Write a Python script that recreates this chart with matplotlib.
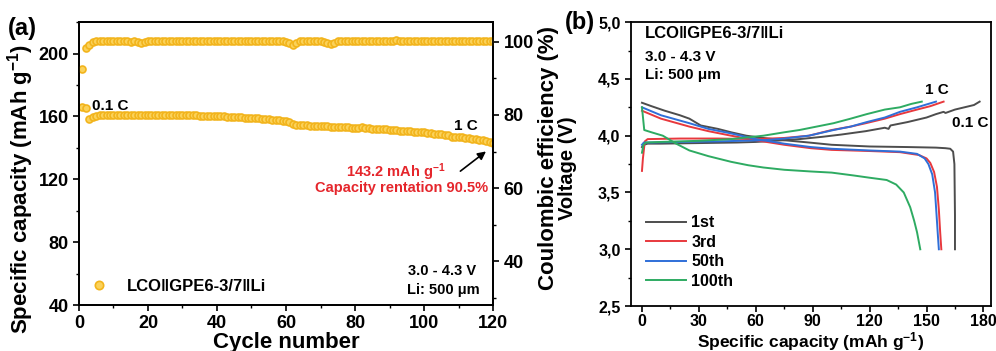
import matplotlib
matplotlib.use("Agg")
import matplotlib.pyplot as plt
from matplotlib.ticker import MultipleLocator, FuncFormatter

plt.rcParams['font.family'] = ['Liberation Sans', 'DejaVu Sans']
plt.rcParams['font.weight'] = 'bold'
plt.rcParams['axes.labelweight'] = 'bold'
plt.rcParams['mathtext.default'] = 'regular'

# ---- panel (a): cycling data ----
cycles = list(range(1, 121))
capacity = [166.0, 165.6, 158.2, 159.6, 160.3, 160.6, 160.8, 160.9, 161.0, 161.0,
            161.1, 161.1, 161.2, 161.1, 161.2, 161.2, 161.1, 160.8, 161.0, 161.1,
            161.1, 161.0, 161.0, 161.0, 160.9, 160.9, 160.9, 160.8, 160.8, 160.8,
            160.7, 160.7, 160.6, 160.6, 160.5, 160.5, 160.4, 160.4, 160.3, 160.2,
            160.1, 160.0, 159.9, 159.8, 159.7, 159.5, 159.4, 159.3, 159.1, 159.0,
            158.8, 158.7, 158.5, 158.3, 158.2, 158.0, 157.8, 157.6, 157.4, 157.1,
            156.5, 155.0, 154.6, 154.5, 154.4, 154.3, 154.2, 154.1, 154.0, 153.9,
            153.8, 153.6, 153.4, 153.5, 153.4, 153.3, 153.2, 153.0, 152.9, 152.8,
            152.7, 153.3, 152.8, 152.5, 152.3, 152.2, 152.0, 151.8, 151.7, 151.5,
            151.3, 151.2, 151.0, 150.8, 150.7, 150.5, 150.3, 150.1, 150.0, 149.8,
            149.6, 149.3, 149.1, 148.8, 148.5, 148.4, 148.0, 147.2, 147.1, 147.0,
            146.6, 146.3, 146.0, 145.8, 145.5, 145.2, 144.9, 144.5, 144.0, 143.2]
efficiency = [92.6, 98.2, 99.2, 100.0, 100.1, 100.1, 100.1, 100.2, 100.1, 100.1,
              100.1, 100.1, 100.1, 100.1, 100.0, 100.1, 99.9, 99.7, 99.9, 100.1,
              100.1, 100.1, 100.1, 100.1, 100.1, 100.1, 100.1, 100.1, 100.1, 100.1,
              100.1, 100.1, 100.1, 100.1, 100.1, 100.1, 100.1, 100.1, 100.1, 100.1,
              100.1, 100.1, 100.1, 100.1, 100.1, 100.1, 100.1, 100.1, 100.1, 100.1,
              100.1, 100.1, 100.1, 100.1, 100.1, 100.1, 100.1, 100.1, 100.1, 100.0,
              99.7, 99.2, 99.8, 100.1, 100.1, 100.1, 100.1, 100.1, 100.1, 100.1,
              100.0, 99.7, 99.4, 99.8, 100.1, 100.1, 100.1, 100.1, 100.1, 100.1,
              100.1, 100.1, 100.1, 100.1, 100.1, 100.1, 100.1, 100.1, 100.1, 100.2,
              100.3, 100.4, 100.2, 100.1, 100.1, 100.1, 100.1, 100.1, 100.1, 100.1,
              100.1, 100.1, 100.1, 100.1, 100.1, 100.1, 100.1, 100.1, 100.1, 100.1,
              100.1, 100.1, 100.1, 100.1, 100.1, 100.1, 100.1, 100.1, 100.1, 100.1]

# ---- panel (b): voltage profiles (specific capacity, voltage) ----
cap_1st_chg = [0, 1, 3, 10, 30, 50, 60, 70, 83, 95, 105, 118, 128, 130, 131, 140, 150, 155, 159, 160, 165, 170, 175, 178]
v_1st_chg = [3.90, 3.92, 3.93, 3.93, 3.935, 3.94, 3.945, 3.955, 3.97, 3.99, 4.01, 4.04, 4.07, 4.06, 4.09, 4.12, 4.16, 4.19, 4.21, 4.20, 4.23, 4.25, 4.27, 4.30]
cap_1st_dis = [0, 5, 12, 20, 25, 31, 40, 47, 55, 64, 75, 88, 100, 120, 140, 155, 160, 162.5, 164, 164.7, 165, 165]
v_1st_dis = [4.29, 4.26, 4.22, 4.18, 4.15, 4.09, 4.06, 4.03, 4.00, 3.98, 3.96, 3.94, 3.92, 3.905, 3.90, 3.895, 3.89, 3.885, 3.86, 3.75, 3.30, 3.00]

cap_3rd_chg = [0, 0.5, 1.5, 3, 20, 40, 60, 75, 88, 100, 110, 118, 128, 136, 145, 152, 159]
v_3rd_chg = [3.69, 3.80, 3.95, 3.97, 3.975, 3.975, 3.97, 3.98, 4.00, 4.05, 4.08, 4.11, 4.15, 4.19, 4.23, 4.26, 4.30]
cap_3rd_dis = [0, 10, 25, 35, 47, 60, 75, 89, 100, 120, 136, 146, 150, 152, 154, 155.5, 156.5, 157.2, 157.8]
v_3rd_dis = [4.22, 4.15, 4.08, 4.04, 4.00, 3.96, 3.92, 3.89, 3.875, 3.865, 3.855, 3.83, 3.80, 3.76, 3.68, 3.55, 3.35, 3.15, 3.00]

cap_50th_chg = [0, 1, 5, 20, 40, 64, 75, 88, 101, 110, 118.5, 128, 136, 145, 155]
v_50th_chg = [3.92, 3.94, 3.94, 3.945, 3.95, 3.96, 3.975, 4.00, 4.05, 4.08, 4.12, 4.16, 4.21, 4.25, 4.30]
cap_50th_dis = [0, 10, 25, 35, 47, 60, 75, 89, 100, 120, 136, 145, 149, 151, 153, 154.5, 155.3, 156, 156.5]
v_50th_dis = [4.25, 4.18, 4.11, 4.06, 4.02, 3.97, 3.93, 3.90, 3.885, 3.87, 3.86, 3.84, 3.80, 3.75, 3.66, 3.50, 3.30, 3.12, 3.00]

cap_100th_chg = [0, 0.8, 2, 10, 30, 47, 64, 75, 83, 92, 101, 110, 118.5, 128, 136, 142, 147.5]
v_100th_chg = [3.85, 3.92, 3.94, 3.945, 3.955, 3.97, 4.00, 4.03, 4.05, 4.08, 4.11, 4.15, 4.19, 4.23, 4.25, 4.28, 4.30]
cap_100th_dis = [0, 0.6, 1.2, 5, 11, 18, 25, 35, 47, 56, 64, 75, 89, 100, 111.5, 120, 129, 134, 138, 141.4, 143.5, 145, 146.7]
v_100th_dis = [4.25, 4.15, 4.05, 4.03, 4.00, 3.93, 3.87, 3.82, 3.77, 3.74, 3.72, 3.70, 3.685, 3.675, 3.65, 3.63, 3.61, 3.57, 3.50, 3.37, 3.25, 3.15, 3.00]

fig = plt.figure(figsize=(9.96, 3.51), dpi=100)

# panel (a)
ax1 = fig.add_axes([0.0793, 0.131, 0.4157, 0.806])
ax2 = ax1.twinx()
gold_face = '#fbd25a'
gold_edge = '#f2b41c'
ax1.plot(cycles, capacity, 'o', ms=5, mfc=gold_face, mec=gold_edge, mew=1.2,
         label='LCO\u2016GPE6-3/7\u2016Li')
ax2.plot(cycles, efficiency, 'o', ms=5, mfc=gold_face, mec=gold_edge, mew=1.2)

ax1.set_xlim(0, 120)
ax1.set_ylim(40, 220)
ax2.set_ylim(28, 105.4)
ax1.xaxis.set_major_locator(MultipleLocator(20))
ax1.xaxis.set_minor_locator(MultipleLocator(10))
ax1.yaxis.set_major_locator(MultipleLocator(40))
ax1.yaxis.set_minor_locator(MultipleLocator(20))
ax2.set_yticks([40, 60, 80, 100])
ax2.yaxis.set_minor_locator(MultipleLocator(10))

for ax in (ax1, ax2):
    for s in ax.spines.values():
        s.set_linewidth(1.3)
    ax.tick_params(which='major', direction='out', length=4, width=1.2, labelsize=13)
    ax.tick_params(which='minor', direction='out', length=2.5, width=1.0)

ax1.set_xlabel('Cycle number', fontsize=16)
ax1.set_ylabel('Specific capacity (mAh g$^{-1}$)', fontsize=16)
ax2.set_ylabel('Coulombic efficiency (%)', fontsize=16)
ax1.xaxis.set_label_coords(0.5, -0.094)
ax1.yaxis.set_label_coords(-0.105, 0.41)
ax2.yaxis.set_label_coords(1.108, 0.52)

ax1.text(3.8, 166.8, '0.1 C', fontsize=11, ha='left', va='center')
ax1.text(112.2, 154.1, '1 C', fontsize=11, ha='center', va='center')
red = '#e5262c'
ax1.text(91.9, 124.8, '143.2 mAh g$^{-1}$', color=red, fontsize=10.5, ha='center', va='center')
ax1.text(118.6, 114.6, 'Capacity rentation 90.5%', color=red, fontsize=10.5, ha='right', va='center')
ax1.annotate('', xy=(118.6, 138.8), xytext=(109.9, 124.1),
             arrowprops=dict(arrowstyle='-|>', color='black', lw=1.2, mutation_scale=12))
ax1.text(95.4, 61.7, '3.0 - 4.3 V', fontsize=10.5, ha='left', va='center')
ax1.text(95.0, 49.6, 'Li: 500 \u03bcm', fontsize=10.5, ha='left', va='center')
ax1.legend(loc='center left', bbox_to_anchor=(0.0, 0.067), frameon=False,
           fontsize=12, handlelength=1.0, handletextpad=1.2, borderaxespad=0.3,
           markerscale=1.2)
fig.text(0.008, 0.918, '(a)', fontsize=17, fontweight='bold', va='center', ha='left')

# panel (b)
ax3 = fig.add_axes([0.6335, 0.128, 0.3615, 0.809])
c_gray, c_red, c_blue, c_green = '#4d4d4d', '#e8383d', '#2f6fd8', '#2eab62'
ax3.plot(cap_1st_chg, v_1st_chg, color=c_gray, lw=1.4, label='1st')
ax3.plot(cap_1st_dis, v_1st_dis, color=c_gray, lw=1.4)
ax3.plot(cap_3rd_chg, v_3rd_chg, color=c_red, lw=1.4, label='3rd')
ax3.plot(cap_3rd_dis, v_3rd_dis, color=c_red, lw=1.4)
ax3.plot(cap_50th_chg, v_50th_chg, color=c_blue, lw=1.4, label='50th')
ax3.plot(cap_50th_dis, v_50th_dis, color=c_blue, lw=1.4)
ax3.plot(cap_100th_chg, v_100th_chg, color=c_green, lw=1.4, label='100th')
ax3.plot(cap_100th_dis, v_100th_dis, color=c_green, lw=1.4)

ax3.set_xlim(-5.8, 184)
ax3.set_ylim(2.5, 5.0)
ax3.xaxis.set_major_locator(MultipleLocator(30))
ax3.xaxis.set_minor_locator(MultipleLocator(15))
ax3.yaxis.set_major_locator(MultipleLocator(0.5))
ax3.yaxis.set_minor_locator(MultipleLocator(0.25))
ax3.yaxis.set_major_formatter(FuncFormatter(lambda v, p: f'{v:.1f}'.replace('.', ',')))
for s in ax3.spines.values():
    s.set_linewidth(1.3)
ax3.tick_params(which='major', direction='out', length=4, width=1.2, labelsize=11.5)
ax3.tick_params(axis='x', which='major', pad=2)
ax3.tick_params(which='minor', direction='out', length=2.5, width=1.0)
ax3.set_xlabel('Specific capacity (mAh g$^{-1}$)', fontsize=12.5)
ax3.set_ylabel('Voltage (V)', fontsize=14.5)
ax3.xaxis.set_label_coords(0.5, -0.083)
ax3.yaxis.set_label_coords(-0.15, 0.486)

ax3.text(1.6, 4.90, 'LCO\u2016GPE6-3/7\u2016Li', fontsize=12, ha='left', va='center')
ax3.text(1.6, 4.69, '3.0 - 4.3 V', fontsize=11, ha='left', va='center')
ax3.text(1.6, 4.53, 'Li: 500 \u03bcm', fontsize=11, ha='left', va='center')
ax3.text(155.6, 4.40, '1 C', fontsize=11, ha='center', va='center')
ax3.text(163.5, 4.11, '0.1 C', fontsize=11, ha='left', va='center')
ax3.legend(loc='center left', bbox_to_anchor=(0.012, 0.19), frameon=False,
           fontsize=11.5, handlelength=2.5, handletextpad=0.3, labelspacing=0.28,
           borderaxespad=0.3)
fig.text(0.567, 0.937, '(b)', fontsize=17, fontweight='bold', va='center', ha='left')

fig.savefig('out.png', dpi=100)
